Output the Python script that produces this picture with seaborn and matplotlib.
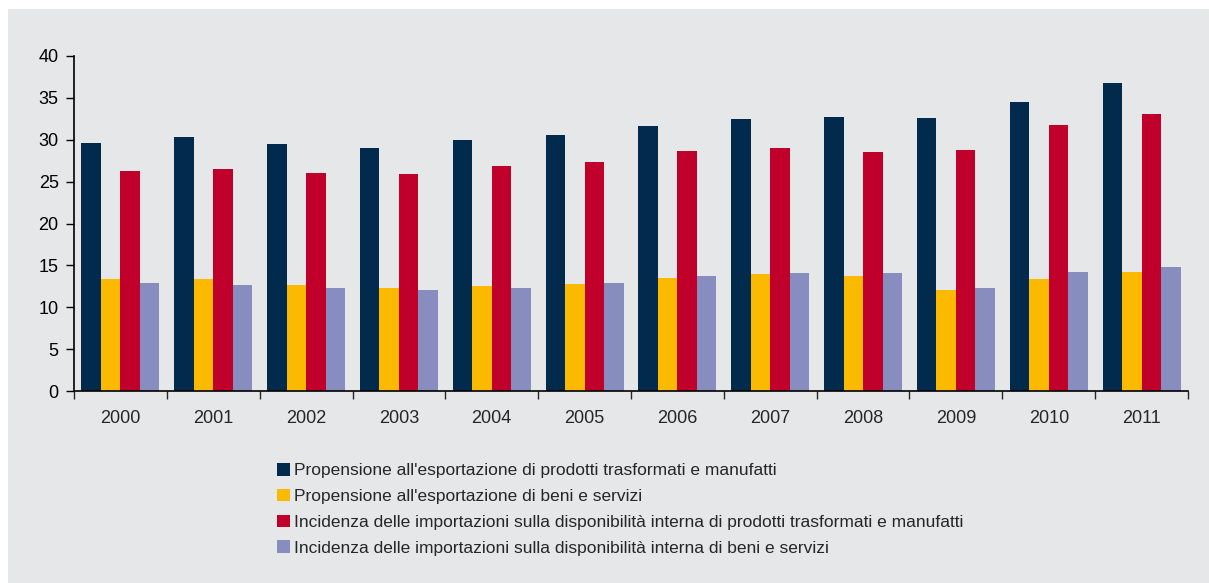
import matplotlib
matplotlib.use("Agg")
import matplotlib.pyplot as plt
from matplotlib.patches import Rectangle
import numpy as np
import pandas as pd
import seaborn as sns

years = ['2000', '2001', '2002', '2003', '2004', '2005',
         '2006', '2007', '2008', '2009', '2010', '2011']

series = ["Propensione all'esportazione di prodotti trasformati e manufatti",
          "Propensione all'esportazione di beni e servizi",
          "Incidenza delle importazioni sulla disponibilità interna di prodotti trasformati e manufatti",
          "Incidenza delle importazioni sulla disponibilità interna di beni e servizi"]

exp_manuf = [29.6, 30.3, 29.5, 29.0, 30.0, 30.6, 31.6, 32.5, 32.7, 32.6, 34.5, 36.8]
exp_beni = [13.4, 13.4, 12.7, 12.3, 12.5, 12.8, 13.5, 14.0, 13.7, 12.1, 13.4, 14.2]
imp_manuf = [26.3, 26.5, 26.0, 25.9, 26.9, 27.3, 28.7, 29.0, 28.5, 28.8, 31.8, 33.1]
imp_beni = [12.9, 12.7, 12.3, 12.1, 12.3, 12.9, 13.7, 14.1, 14.1, 12.3, 14.2, 14.8]

colors = ['#022A4C', '#FBBA00', '#C0002A', '#878EBF']
grey = '#E6E7E9'

# long form for seaborn
rows = []
for name, vals in zip(series, [exp_manuf, exp_beni, imp_manuf, imp_beni]):
    for y, v in zip(years, vals):
        rows.append({'anno': y, 'serie': name, 'valore': v})
df = pd.DataFrame(rows)

sns.set_style('ticks')
plt.rcParams['font.family'] = ['Liberation Sans', 'DejaVu Sans']

fig = plt.figure(figsize=(12.09, 5.83), dpi=100)
fig.patch.set_facecolor('white')
fig.patches.append(Rectangle((8 / 1209, 0), 1, 1 - 9 / 583, transform=fig.transFigure,
                             facecolor=grey, edgecolor='none', zorder=-10))

ax = fig.add_axes([74 / 1209, 1 - 391 / 583, (1188 - 74) / 1209, (391 - 56) / 583])
ax.set_facecolor(grey)

sns.barplot(data=df, x='anno', y='valore', hue='serie', hue_order=series,
            palette=colors, width=0.84, gap=0, saturation=1, ax=ax,
            edgecolor='none', linewidth=0, legend=False)

ax.set_ylim(0, 40)
ax.set_xlim(-0.5, 11.47)
ax.set_yticks(range(0, 41, 5))
ax.set_xlabel('')
ax.set_ylabel('')
ax.tick_params(axis='y', labelsize=13, length=6, width=1, colors='black', pad=5)
ax.tick_params(axis='x', which='major', labelsize=13, length=0, pad=14)
ax.set_xticks(np.arange(-0.5, 12, 1), minor=True)
ax.tick_params(axis='x', which='minor', length=6, width=1)
sns.despine(ax=ax)
for s in ['left', 'bottom']:
    ax.spines[s].set_linewidth(1.2)
    ax.spines[s].set_color('black')

handles = [Rectangle((0, 0), 1, 1, facecolor=c, edgecolor='none') for c in colors]
fig.legend(handles, series, loc='upper left', bbox_to_anchor=(270 / 1209, 1 - 456 / 583),
           frameon=False, fontsize=12.5, handlelength=0.75, handleheight=0.75,
           handletextpad=0.25, labelspacing=0.6, borderaxespad=0)

fig.savefig('out.png', dpi=100, facecolor='white')
